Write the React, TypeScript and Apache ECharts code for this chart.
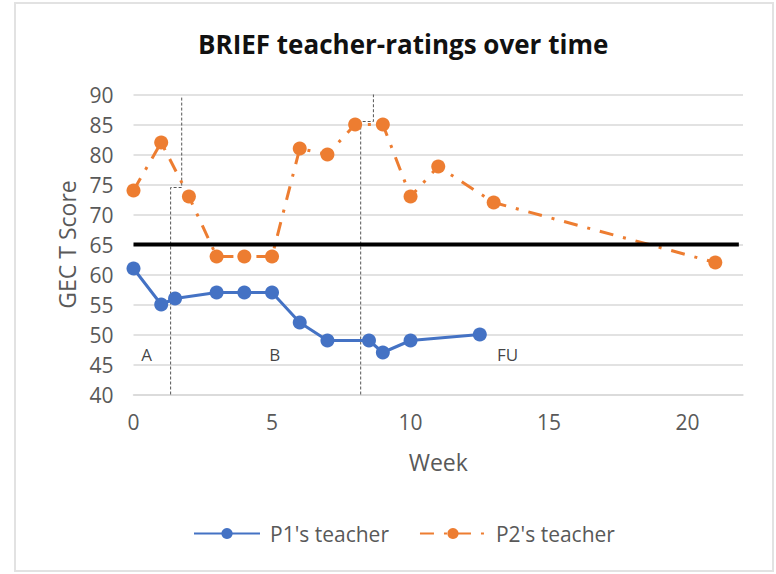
import React, { useEffect, useRef } from "react";
import * as echarts from "echarts";

const p1Weeks = [0, 1, 1.5, 3, 4, 5, 6, 7, 8.5, 9, 10, 12.5];
const p1Scores = [61, 55, 56, 57, 57, 57, 52, 49, 49, 47, 49, 50];

const p2Weeks = [0, 1, 2, 3, 4, 5, 6, 7, 8, 9, 10, 11, 13, 21];
const p2Scores = [74, 82, 73, 63, 63, 63, 81, 80, 85, 85, 73, 78, 72, 62];

const thresholdWeeks = [0, 21.85];
const thresholdScore = 65;

const phaseLine1 = [[1.34, 40], [1.34, 74.5], [1.74, 74.5], [1.74, 89.5]];
const phaseLine2 = [[8.2, 40], [8.2, 85.5], [8.66, 85.5], [8.66, 90]];

const phaseLabels = [
  { week: 0.47, score: 46.6, text: "A" },
  { week: 5.1, score: 46.6, text: "B" },
  { week: 13.5, score: 46.6, text: "FU" },
];

const xTicks = [0, 5, 10, 15, 20];
const yMin = 40;
const yMax = 90;

const FONT = "'Open Sans', sans-serif";

export default function App() {
  const ref = useRef<HTMLDivElement>(null);

  useEffect(() => {
    if (!ref.current) return;
    const chart = echarts.init(ref.current, null, { renderer: "svg" });
    const zip = (xs: number[], ys: number[]) => xs.map((x, i) => [x, ys[i]]);

    chart.setOption({
      animation: false,
      backgroundColor: "#ffffff",
      textStyle: { fontFamily: FONT },
      title: {
        text: "BRIEF teacher-ratings over time",
        left: 193,
        top: 26,
        textStyle: { fontFamily: FONT, fontSize: 26, fontWeight: "bold", color: "#111" },
      },
      graphic: [
        {
          type: "rect",
          shape: { x: 15, y: 3, width: 758, height: 568 },
          style: { fill: "none", stroke: "#e2e2e2", lineWidth: 2 },
          silent: true,
          z: -10,
        },
      ],
      legend: {
        data: ["P1's teacher", "P2's teacher"],
        bottom: 25,
        left: 188,
        itemWidth: 66,
        itemHeight: 14,
        itemGap: 30,
        textStyle: { fontFamily: FONT, fontSize: 21, color: "#595959", padding: [0, 0, 0, 5] },
      },
      grid: { left: 133.5, right: 33, top: 94.5, bottom: 179.5, containLabel: false },
      xAxis: {
        type: "value",
        min: 0,
        max: 22,
        interval: 5,
        name: "Week",
        nameLocation: "middle",
        nameGap: 56,
        nameTextStyle: { fontFamily: FONT, fontSize: 23, color: "#595959" },
        axisLine: { show: true, lineStyle: { color: "#d9d9d9", width: 1.5 } },
        axisTick: { show: false },
        splitLine: { show: false },
        axisLabel: {
          fontFamily: FONT,
          fontSize: 21,
          color: "#595959",
          margin: 17,
          showMaxLabel: false,
          formatter: (v: number) => (xTicks.includes(v) ? String(v) : ""),
        },
      },
      yAxis: {
        type: "value",
        min: yMin,
        max: yMax,
        interval: 5,
        name: "GEC T Score",
        nameLocation: "middle",
        nameGap: 54,
        nameTextStyle: { fontFamily: FONT, fontSize: 23, color: "#595959" },
        axisLine: { show: false },
        axisTick: { show: false },
        splitLine: { show: true, lineStyle: { color: "#d9d9d9", width: 1.5 } },
        axisLabel: { fontFamily: FONT, fontSize: 21, color: "#595959", margin: 20 },
      },
      series: [
        {
          name: "phase1",
          type: "line",
          data: phaseLine1,
          symbol: "none",
          silent: true,
          z: 1,
          lineStyle: { color: "#555", width: 1, type: [3, 2] },
        },
        {
          name: "phase2",
          type: "line",
          data: phaseLine2,
          symbol: "none",
          silent: true,
          z: 1,
          lineStyle: { color: "#555", width: 1, type: [3, 2] },
        },
        {
          name: "P1's teacher",
          type: "line",
          data: zip(p1Weeks, p1Scores),
          symbol: "circle",
          symbolSize: 14,
          z: 3,
          itemStyle: { color: "#4472C4" },
          lineStyle: { color: "#4472C4", width: 3 },
        },
        {
          name: "P2's teacher",
          type: "line",
          data: zip(p2Weeks, p2Scores),
          symbol: "circle",
          symbolSize: 14,
          z: 3,
          itemStyle: { color: "#ED7D31" },
          lineStyle: { color: "#ED7D31", width: 3, type: [14, 10, 3, 10] },
        },
        {
          name: "threshold",
          type: "line",
          data: thresholdWeeks.map((w) => [w, thresholdScore]),
          symbol: "none",
          silent: true,
          z: 4,
          lineStyle: { color: "#000", width: 4 },
        },
        {
          name: "labels",
          type: "scatter",
          data: phaseLabels.map((p) => [p.week, p.score, p.text]),
          symbolSize: 1,
          silent: true,
          z: 5,
          itemStyle: { color: "rgba(0,0,0,0)" },
          label: {
            show: true,
            position: "inside",
            formatter: (p: any) => p.value[2],
            fontFamily: FONT,
            fontSize: 17,
            color: "#111",
          },
        },
      ],
    });

    return () => chart.dispose();
  }, []);

  return (
    <div
      ref={ref}
      style={{ position: "absolute", left: 0, top: 0, width: 776, height: 574 }}
    />
  );
}
